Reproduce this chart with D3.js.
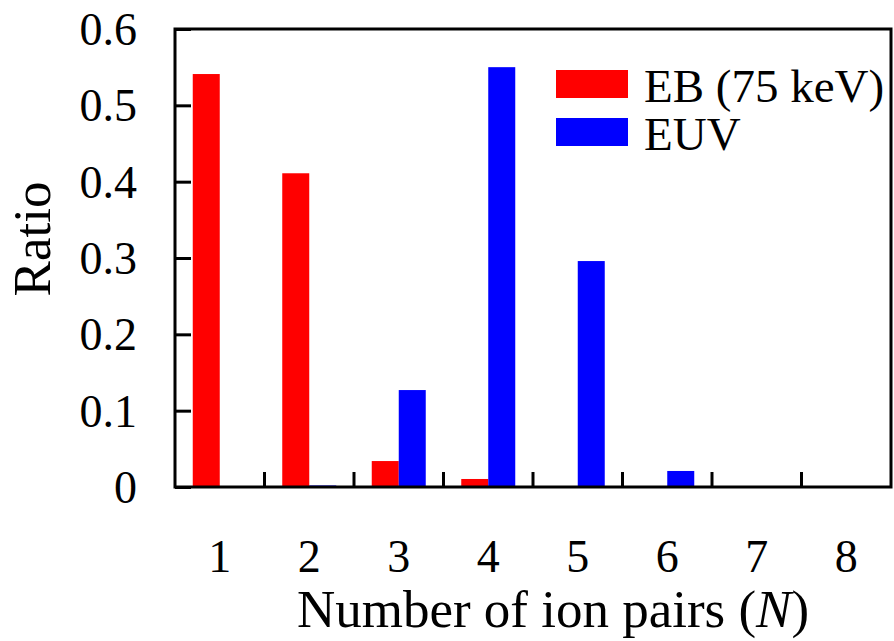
<!DOCTYPE html>
<html>
<head>
<meta charset="utf-8">
<script src="https://cdn.jsdelivr.net/npm/d3@7"></script>
<style>
  html, body { margin: 0; padding: 0; background: #fff; }
  svg { display: block; }
  text { font-family: "Liberation Serif", "DejaVu Serif", serif; fill: #000; }
</style>
</head>
<body>
<svg id="chart" width="894" height="641"></svg>
<script>
// Ion-pair number distribution for EB (75 keV) and EUV exposure
const categories = ["1", "2", "3", "4", "5", "6", "7", "8"];
const ebValues  = [0.541, 0.411, 0.034, 0.0105, 0, 0, 0, 0];
const euvValues = [0, 0.002, 0.127, 0.550, 0.296, 0.021, 0, 0];
const seriesNames = ["EB (75 keV)", "EUV"];
const seriesColors = ["#ff0000", "#0000ff"];
const yTicks = [0, 0.1, 0.2, 0.3, 0.4, 0.5, 0.6];
const yTickLabels = ["0", "0.1", "0.2", "0.3", "0.4", "0.5", "0.6"];

const svg = d3.select("#chart");
const plotLeft = 175, plotRight = 891, plotTop = 29, plotBottom = 487;

const x = d3.scaleBand().domain(categories).range([plotLeft, plotRight]).padding(0);
const y = d3.scaleLinear().domain([0, 0.6]).range([plotBottom, plotTop]);
const barW = 27;

// bars: first series to the left of the category centre, second to the right
const series = [ebValues, euvValues];
series.forEach((vals, si) => {
  svg.append("g").selectAll("rect")
    .data(categories.map((c, i) => ({ c, v: vals[i] })).filter(d => d.v > 0))
    .join("rect")
    .attr("x", d => x(d.c) + x.bandwidth() / 2 + (si === 0 ? -barW : 0))
    .attr("width", barW)
    .attr("y", d => y(d.v))
    .attr("height", d => y(0) - y(d.v))
    .attr("fill", seriesColors[si]);
});

// frame
svg.append("rect")
  .attr("x", plotLeft).attr("y", plotTop)
  .attr("width", plotRight - plotLeft).attr("height", plotBottom - plotTop)
  .attr("fill", "none").attr("stroke", "#000").attr("stroke-width", 3);

// y axis: inward ticks, labels outside
const yAxis = d3.axisLeft(y).tickValues(yTicks)
  .tickSize(-16).tickPadding(38)
  .tickFormat((d, i) => yTickLabels[i]);
const gy = svg.append("g").attr("transform", `translate(${plotLeft},0)`).call(yAxis);
gy.select(".domain").remove();
gy.selectAll(".tick line").attr("stroke", "#000").attr("stroke-width", 3);
gy.selectAll(".tick text")
  .style("font-family", "'Liberation Serif', serif")
  .attr("font-size", 46).attr("dy", "0.34em").attr("fill", "#000");

// x axis: labels at category centres, ticks at category boundaries
const xAxis = d3.axisBottom(x).tickSize(0).tickPadding(52);
const gx = svg.append("g").attr("transform", `translate(0,${plotBottom})`).call(xAxis);
gx.select(".domain").remove();
gx.selectAll(".tick text")
  .style("font-family", "'Liberation Serif', serif")
  .attr("font-size", 46).attr("fill", "#000");

svg.append("g").selectAll("line")
  .data(categories.slice(1))
  .join("line")
  .attr("x1", d => x(d)).attr("x2", d => x(d))
  .attr("y1", plotBottom).attr("y2", plotBottom - 15)
  .attr("stroke", "#000").attr("stroke-width", 3);

// axis titles
const xt = svg.append("text")
  .attr("x", (plotLeft + plotRight) / 2 + 20).attr("y", 627)
  .attr("text-anchor", "middle").attr("font-size", 53);
xt.append("tspan").text("Number of ion pairs (");
xt.append("tspan").attr("font-style", "italic").text("N");
xt.append("tspan").text(")");

svg.append("text")
  .attr("transform", "translate(50,239) rotate(-90)")
  .attr("text-anchor", "middle").attr("font-size", 53)
  .text("Ratio");

// legend
const legend = svg.append("g");
seriesNames.forEach((name, i) => {
  const ly = 70 + i * 48;
  legend.append("rect")
    .attr("x", 556).attr("y", ly).attr("width", 72).attr("height", 28)
    .attr("fill", seriesColors[i]);
  legend.append("text")
    .attr("x", 644).attr("y", ly + 32)
    .attr("font-size", 47)
    .text(name);
});
</script>
</body>
</html>
